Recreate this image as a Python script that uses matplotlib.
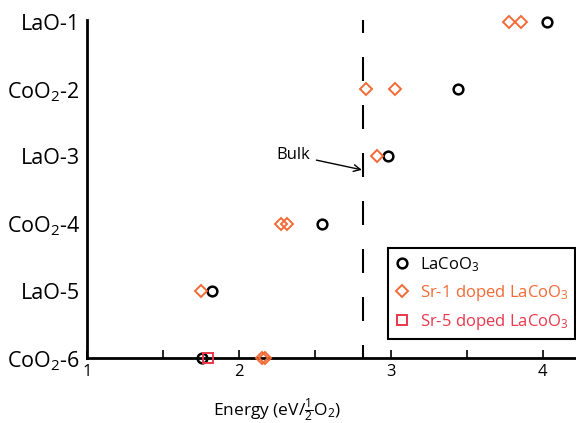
import numpy as np
import matplotlib
matplotlib.use('Agg')
import matplotlib.pyplot as plt

plt.rcParams['font.family'] = ['Open Sans', 'DejaVu Sans']
plt.rcParams['mathtext.fontset'] = 'custom'
plt.rcParams['mathtext.rm'] = 'Open Sans'
plt.rcParams['mathtext.it'] = 'Open Sans'

#-------------------------------------------------------------------------------
# layers, top (surface) to bottom
layers = ['LaO-1', 'CoO$_2$-2', 'LaO-3', 'CoO$_2$-4', 'LaO-5', 'CoO$_2$-6']
ypos = [6, 5, 4, 3, 2, 1]

# LaCoO3, one value per layer
e_lco = [4.03, 3.44, 2.98, 2.55, 1.82, 1.76]

# Sr-1 doped, two sites per layer
sr1_layer = [6, 6, 5, 5, 4, 3, 3, 2, 1, 1]
e_sr1 = [3.78, 3.855, 2.84, 3.03, 2.91, 2.28, 2.32, 1.75, 2.15, 2.17]

# Sr-5 doped, only the bottom layer
sr5_layer = [1]
e_sr5 = [1.80]

e_bulk = 2.82

orange = '#f26a36'
red = '#e8384a'

fig = plt.figure(figsize=(5.76, 4.23), dpi=100)
ax = fig.add_axes([0.151, 0.1537, 0.849, 0.7990])

ax.plot(e_lco, ypos, ls='none', marker='o', ms=7, mfc='none', mec='k', mew=1.8,
        label='LaCoO$_3$', clip_on=False, zorder=4)
ax.plot(e_sr1, sr1_layer, ls='none', marker='D', ms=6.5, mfc='none', mec=orange,
        mew=1.4, label='Sr-1 doped LaCoO$_3$', clip_on=False, zorder=4)
ax.plot(e_sr5, sr5_layer, ls='none', marker='s', ms=7, mfc='none', mec=red,
        mew=1.4, label='Sr-5 doped LaCoO$_3$', clip_on=False, zorder=4)

# bulk reference
ax.plot([e_bulk, e_bulk], [1, 6.03], c='k', lw=1.5,
        linestyle=(5.28, (11.52, 11.52)), zorder=2)
ax.annotate('Bulk', xy=(e_bulk - 0.01, 3.80), xytext=(2.355, 4.02),
            fontsize=12, va='center', ha='center',
            arrowprops=dict(arrowstyle='->', color='k', lw=1.0,
                            shrinkA=3, shrinkB=0))

ax.set_xlim(1, 4.22)
ax.set_ylim(1, 6.03)
ax.set_xticks([1, 2, 3, 4])
ax.set_xticks([1.5, 2.5, 3.5], minor=True)
ax.set_yticks(ypos)
ax.set_yticklabels(layers, fontsize=15.5)
ax.tick_params(axis='x', which='both', direction='in', length=6, width=1.2,
               labelsize=12, pad=4)
ax.tick_params(axis='y', length=0, pad=5)

for s in ['top', 'right']:
    ax.spines[s].set_visible(False)
ax.spines['left'].set_linewidth(2)
ax.spines['bottom'].set_linewidth(2)

ax.set_xlabel(r'Energy (eV/$\frac{1}{2}$O$_2$)', fontsize=12.5)
ax.xaxis.set_label_coords(0.389, -0.115)

leg = ax.legend(loc='upper left', bbox_to_anchor=(0.616, 0.325), fontsize=12,
                numpoints=1, handlelength=0.8, handletextpad=0.7,
                labelspacing=0.55, borderpad=0.4, fancybox=False,
                framealpha=1, edgecolor='k', borderaxespad=0)
leg.get_frame().set_linewidth(1.5)
for txt, col in zip(leg.get_texts(), ['k', orange, red]):
    txt.set_color(col)

plt.savefig('out.png', dpi=100)
